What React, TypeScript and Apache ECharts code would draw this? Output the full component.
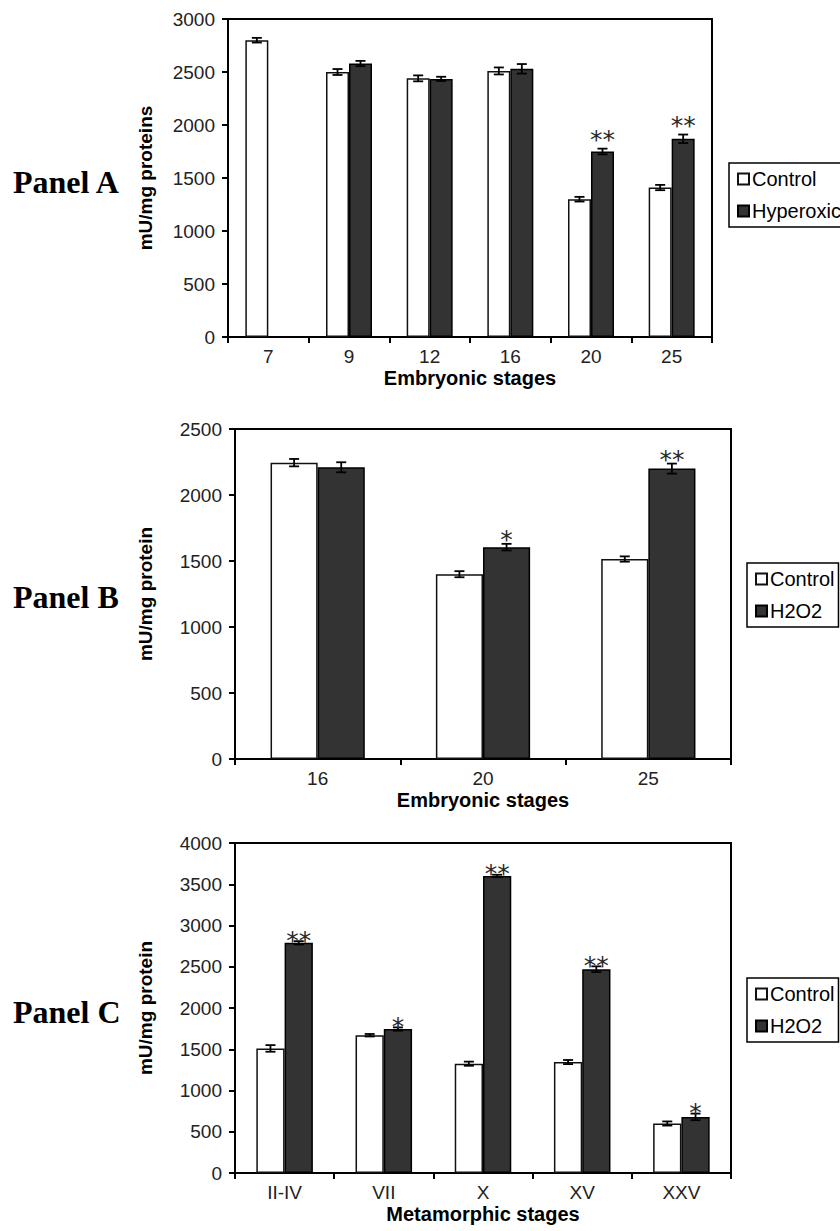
import React, { useEffect, useRef } from "react";
import * as echarts from "echarts";

// Panel A – embryonic stages, hyperoxia
const catsA = ["7", "9", "12", "16", "20", "25"];
const ctrlA = [2800, 2500, 2440, 2510, 1300, 1410];
const ctrlErrA = [22, 28, 28, 33, 22, 25];
const hypA: (number | null)[] = [null, 2580, 2435, 2530, 1750, 1870];
const hypErrA: (number | null)[] = [null, 25, 20, 45, 27, 40];
const sigA = ["", "", "", "", "**", "**"];

// Panel B – embryonic stages, H2O2
const catsB = ["16", "20", "25"];
const ctrlB = [2245, 1400, 1515];
const ctrlErrB = [28, 23, 20];
const h2o2B = [2210, 1605, 2200];
const h2o2ErrB = [38, 25, 38];
const sigB = ["", "*", "**"];

// Panel C – metamorphic stages, H2O2
const catsC = ["II-IV", "VII", "X", "XV", "XXV"];
const ctrlC = [1510, 1670, 1325, 1345, 600];
const ctrlErrC = [40, 15, 25, 25, 25];
const h2o2C = [2790, 1745, 3600, 2470, 680];
const h2o2ErrC = [20, 20, 15, 35, 40];
const sigC = ["**", "*", "**", "**", "*"];

const SANS = '"Liberation Sans", Arial, Helvetica, sans-serif';
const BAR_FRAC = 0.285;

export default function App() {
  const ref = useRef<HTMLDivElement>(null);

  useEffect(() => {
    if (!ref.current) return;
    const chart = echarts.init(ref.current, undefined, { renderer: "svg" });

    const panels = [
      {
        cats: catsA, ctrl: ctrlA, ctrlErr: ctrlErrA, trt: hypA, trtErr: hypErrA, sig: sigA,
        trtName: "Hyperoxic", max: 3000, yName: "mU/mg proteins", xName: "Embryonic stages",
        grid: { left: 228, top: 19, width: 484, height: 318 }, yNameGap: 73, starOff: 14,
        legend: { left: 729, top: 163 }, label: "Panel A", labelY: 182,
      },
      {
        cats: catsB, ctrl: ctrlB, ctrlErr: ctrlErrB, trt: h2o2B, trtErr: h2o2ErrB, sig: sigB,
        trtName: "H2O2", max: 2500, yName: "mU/mg protein", xName: "Embryonic stages",
        grid: { left: 235, top: 429, width: 496, height: 330 }, yNameGap: 80, starOff: 9,
        legend: { left: 747, top: 563 }, label: "Panel B", labelY: 597,
      },
      {
        cats: catsC, ctrl: ctrlC, ctrlErr: ctrlErrC, trt: h2o2C, trtErr: h2o2ErrC, sig: sigC,
        trtName: "H2O2", max: 4000, yName: "mU/mg protein", xName: "Metamorphic stages",
        grid: { left: 235, top: 843, width: 496, height: 330 }, yNameGap: 80, starOff: 6,
        legend: { left: 747, top: 978 }, label: "Panel C", labelY: 1012,
      },
    ];

    const grids: any[] = [];
    const xAxes: any[] = [];
    const yAxes: any[] = [];
    const series: any[] = [];
    const legends: any[] = [];
    const graphics: any[] = [];

    const errSeries = (
      pi: number,
      vals: (number | null)[],
      errs: (number | null)[],
      side: number,
      sig: string[] | null,
      starOff: number
    ) => ({
      type: "custom",
      xAxisIndex: pi,
      yAxisIndex: pi,
      silent: true,
      z: 5,
      data: vals
        .map((v, i) => (v == null ? null : [i, v, errs[i] as number]))
        .filter((d) => d !== null),
      renderItem: (params: any, api: any) => {
        const idx = api.value(0);
        const v = api.value(1);
        const e = api.value(2);
        const c = api.coord([idx, v]);
        const bw = api.size([1, 0])[0];
        const x = c[0] + (side * bw * BAR_FRAC) / 2;
        const yTop = api.coord([idx, v + e])[1];
        const yBot = api.coord([idx, v - e])[1];
        const ls = { stroke: "#000", lineWidth: 1.8 };
        const children: any[] = [
          { type: "line", shape: { x1: x, y1: yTop, x2: x, y2: yBot }, style: ls },
          { type: "line", shape: { x1: x - 5, y1: yTop, x2: x + 5, y2: yTop }, style: ls },
          { type: "line", shape: { x1: x - 5, y1: yBot, x2: x + 5, y2: yBot }, style: ls },
        ];
        const s = sig ? sig[idx] : "";
        if (s) {
          children.push({
            type: "text",
            x: x,
            y: yTop - starOff + 5,
            style: {
              text: s,
              font: '25px "DejaVu Sans", sans-serif',
              fill: "#2a2a2a",
              align: "center",
              verticalAlign: "middle",
            },
          });
        }
        return { type: "group", children };
      },
    });

    panels.forEach((p, pi) => {
      grids.push({
        ...p.grid,
        show: true,
        borderColor: "#000",
        borderWidth: 2,
        backgroundColor: "transparent",
      });
      xAxes.push({
        type: "category",
        gridIndex: pi,
        data: p.cats,
        axisLine: { lineStyle: { color: "#000", width: 2 } },
        axisTick: { show: true, length: 6, interval: 0, lineStyle: { color: "#000", width: 2 } },
        axisLabel: { fontSize: 19, color: "#222", margin: 10, fontFamily: SANS, interval: 0 },
        name: p.xName,
        nameLocation: "middle",
        nameGap: 31,
        nameTextStyle: { fontSize: 20, fontWeight: "bold", color: "#000", fontFamily: SANS },
      });
      yAxes.push({
        type: "value",
        gridIndex: pi,
        min: 0,
        max: p.max,
        interval: 500,
        axisLine: { show: true, lineStyle: { color: "#000", width: 2 } },
        axisTick: { show: true, length: 6, lineStyle: { color: "#000", width: 2 } },
        splitLine: { show: false },
        axisLabel: {
          fontSize: 19,
          color: "#222",
          margin: 13,
          fontFamily: SANS,
          formatter: (v: number) => String(v),
        },
        name: p.yName,
        nameLocation: "middle",
        nameRotate: 90,
        nameGap: p.yNameGap,
        nameTextStyle: { fontSize: 19, fontWeight: "bold", color: "#000", fontFamily: SANS },
      });
      series.push({
        type: "bar",
        name: "Control",
        xAxisIndex: pi,
        yAxisIndex: pi,
        data: p.ctrl,
        barWidth: BAR_FRAC * 100 + "%",
        barGap: "0%",
        itemStyle: { color: "#ffffff", borderColor: "#111", borderWidth: 1.5 },
      });
      series.push({
        type: "bar",
        name: p.trtName,
        xAxisIndex: pi,
        yAxisIndex: pi,
        data: p.trt.map((v) => (v == null ? "-" : v)),
        barWidth: BAR_FRAC * 100 + "%",
        barGap: "0%",
        itemStyle: { color: "#333333", borderColor: "#000", borderWidth: 1.5 },
      });
      series.push(errSeries(pi, p.ctrl, p.ctrlErr, -1, null, 0));
      series.push(errSeries(pi, p.trt, p.trtErr, 1, p.sig, p.starOff));
      legends.push({
        orient: "vertical",
        left: p.legend.left,
        top: p.legend.top,
        data: ["Control", p.trtName],
        icon: "rect",
        itemWidth: 11,
        itemHeight: 11,
        itemGap: 12,
        padding: [6, 4, 6, 8],
        borderColor: "#000",
        borderWidth: 1.5,
        selectedMode: false,
        textStyle: { fontSize: 20, color: "#000", fontFamily: SANS, padding: [0, 0, 0, -2] },
      });
      graphics.push({
        type: "text",
        x: 13,
        y: p.labelY,
        style: {
          text: p.label,
          font: 'bold 32px "Liberation Serif", "Times New Roman", serif',
          fill: "#000",
          verticalAlign: "middle",
        },
      });
    });

    chart.setOption({
      animation: false,
      backgroundColor: "#fff",
      grid: grids,
      xAxis: xAxes,
      yAxis: yAxes,
      legend: legends,
      series,
      graphic: graphics,
    });

    return () => chart.dispose();
  }, []);

  return (
    <div
      ref={ref}
      style={{ position: "absolute", left: 0, top: 0, width: 840, height: 1231 }}
    />
  );
}
